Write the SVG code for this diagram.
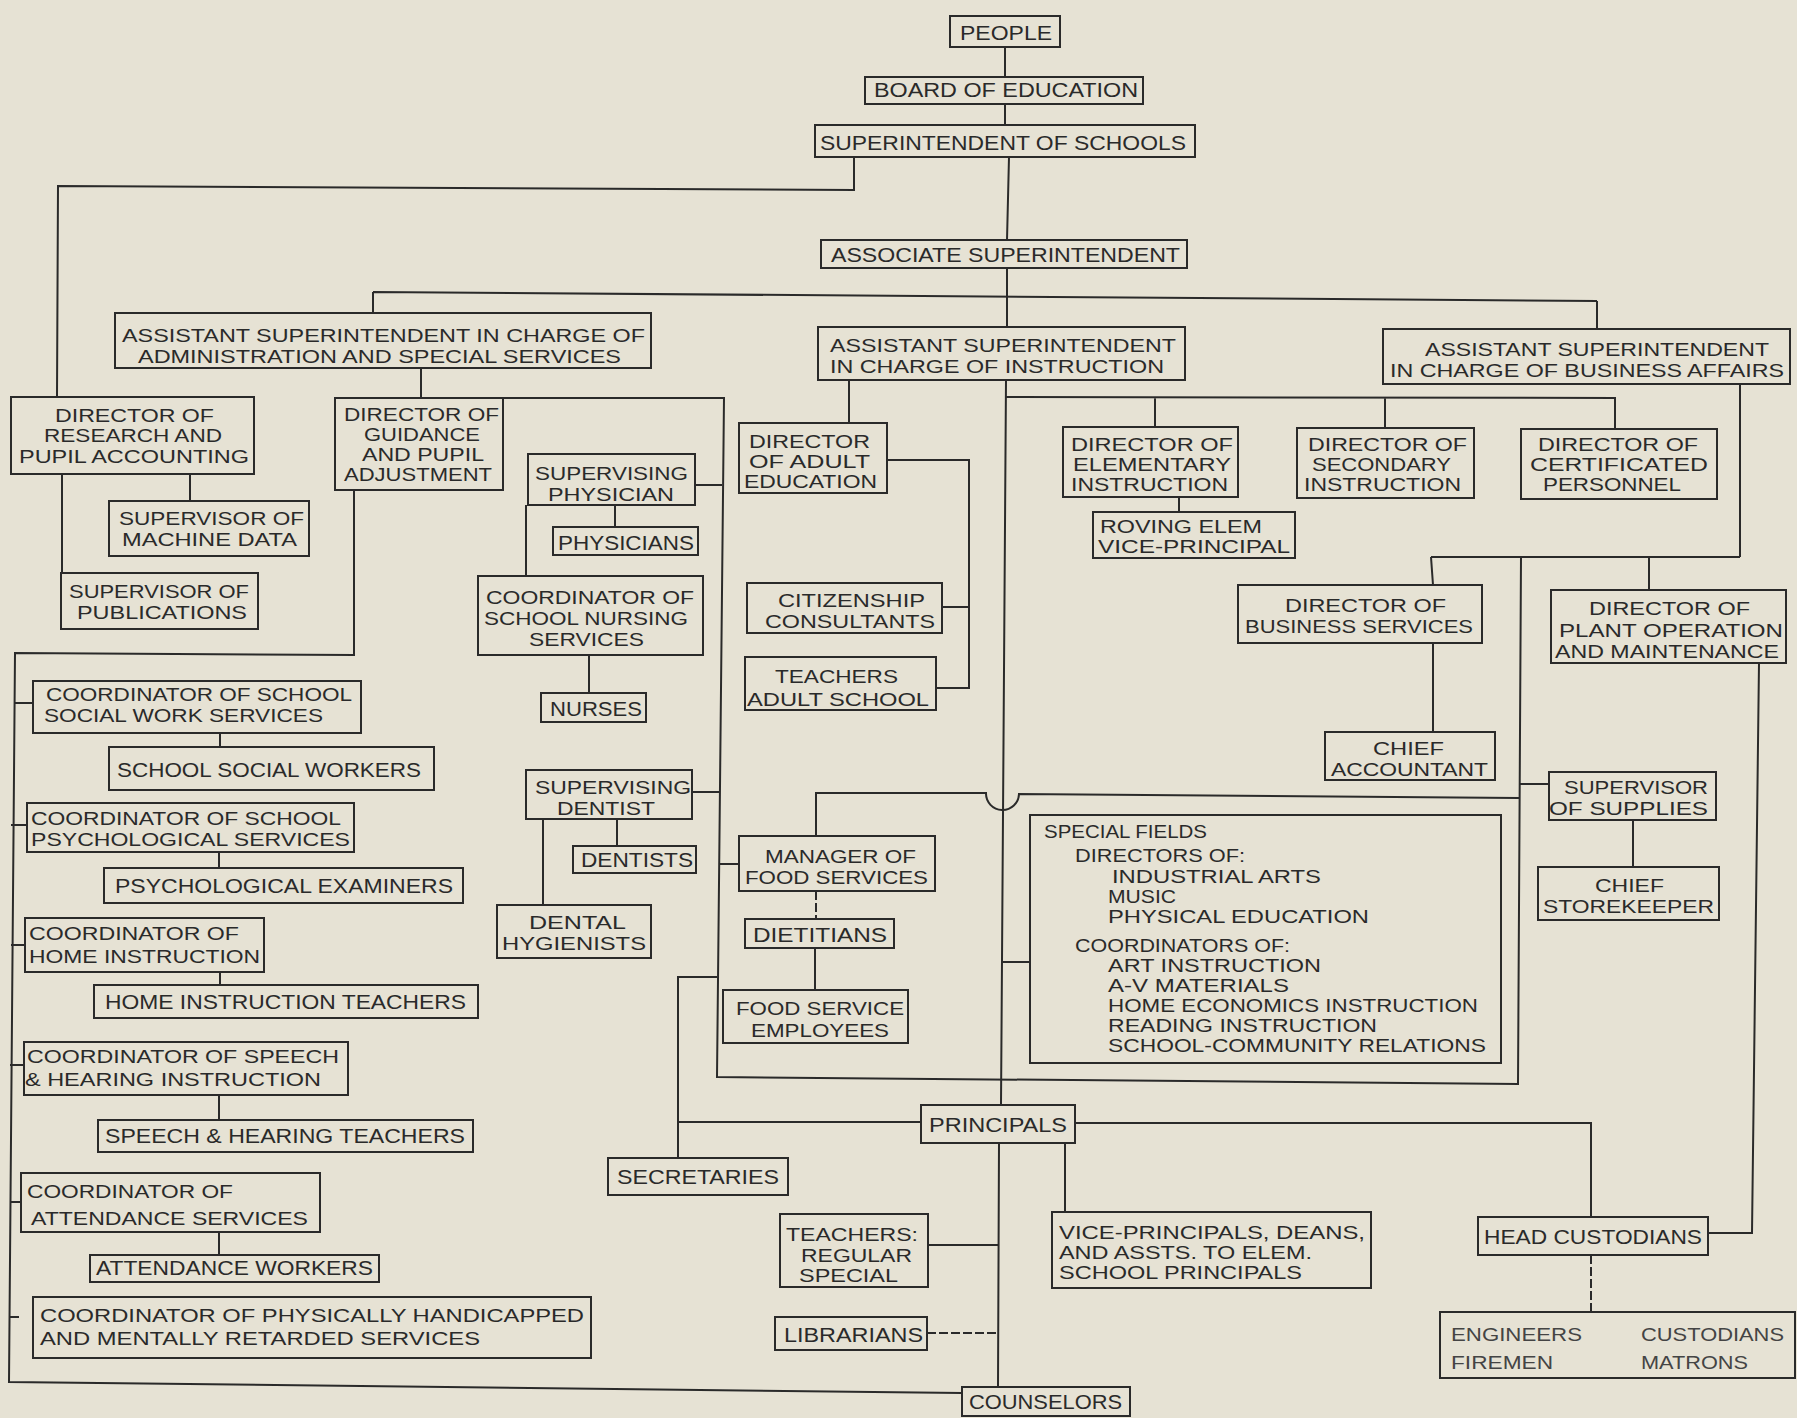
<svg xmlns="http://www.w3.org/2000/svg" width="1797" height="1418" viewBox="0 0 1797 1418">
<style>
.bx{fill:none;stroke:#2a2a2a;stroke-width:2}
.ln{fill:none;stroke:#2a2a2a;stroke-width:2}
.dl{fill:none;stroke:#2a2a2a;stroke-width:2;stroke-dasharray:9 3}
text{font-family:"Liberation Sans",Arial,sans-serif;font-size:18px;fill:#2a2a2a}
.s{font-size:20px}
.lt{fill:#444}
</style>
<rect x="0" y="0" width="1797" height="1418" fill="#e6e2d4"/>
<g id="connectors">
<path class="ln" d="M1005 47V77M1005 104V125M1009 157L1007 240M1007 268V327"/>
<polyline class="ln" points="854,157 854,190 58,186 57,397"/>
<path class="ln" d="M373 292L1597 301M373 292V313M1597 301V329"/>
<path class="ln" d="M421 368V398"/>
<polyline class="ln" points="503,398 724,398 717,1077 1518,1084 1521,557"/>
<polyline class="ln" points="354,490 354,655 15,653 9,1382 962,1393"/>
<path class="ln" d="M15 703H33M11 825H27M11 945H25M10 1065H24M10 1202H21M9 1317H19"/>
<path class="ln" d="M220 733V747M219 852V868M220 972V985M219 1095V1120M219 1232V1255"/>
<path class="ln" d="M190 474V501M62 474V573"/>
<path class="ln" d="M695 485H722M615 505V527M526 505V576M589 655V693"/>
<path class="ln" d="M692 792H720M617 819V846M543 819V905M719 864H739"/>
<path class="ln" d="M816 836V793H986A16.5 16.5 0 0 0 1019 794L1519 798"/>
<path class="dl" d="M816 891V919"/>
<path class="ln" d="M815 948V990"/>
<polyline class="ln" points="717,977 678,977 678,1158"/>
<path class="ln" d="M678 1122H921"/>
<path class="ln" d="M1006 380L1001 1105M999 1143L998 1387M1003 962H1030"/>
<path class="ln" d="M1065 1143V1212M928 1245H999"/>
<path class="dl" d="M927 1333H998"/>
<polyline class="ln" points="1075,1123 1591,1123 1591,1217"/>
<path class="dl" d="M1591 1255V1312"/>
<polyline class="ln" points="1708,1233 1752,1233 1759,663"/>
<path class="ln" d="M1740 384V557M1431 557H1740M1431 557L1433 585M1649 557V590M1433 643V732"/>
<path class="ln" d="M1519 784H1549M1633 820V867"/>
<path class="ln" d="M849 380V423M1006 397L1616 398M1155 397V427M1385 398V428M1615 398V429M1179 497V512"/>
<polyline class="ln" points="887,460 969,460 969,688 936,688"/>
<path class="ln" d="M942 607H969"/>
</g>
<g id="people"><rect class="bx" x="950" y="16" width="110" height="31"/><text class="s" x="960" y="40" textLength="92" lengthAdjust="spacingAndGlyphs">PEOPLE</text></g>
<g id="board"><rect class="bx" x="865" y="77" width="278" height="27"/><text class="s" x="874" y="97" textLength="264" lengthAdjust="spacingAndGlyphs">BOARD OF EDUCATION</text></g>
<g id="supt"><rect class="bx" x="815" y="125" width="380" height="32"/><text class="s" x="820" y="150" textLength="366" lengthAdjust="spacingAndGlyphs">SUPERINTENDENT OF SCHOOLS</text></g>
<g id="assoc"><rect class="bx" x="821" y="240" width="366" height="28"/><text class="s" x="831" y="262" textLength="349" lengthAdjust="spacingAndGlyphs">ASSOCIATE SUPERINTENDENT</text></g>
<g id="asstAdmin"><rect class="bx" x="115" y="313" width="536" height="55"/><text x="122" y="342" textLength="523" lengthAdjust="spacingAndGlyphs">ASSISTANT SUPERINTENDENT IN CHARGE OF</text><text x="138" y="363" textLength="483" lengthAdjust="spacingAndGlyphs">ADMINISTRATION AND SPECIAL SERVICES</text></g>
<g id="asstInstr"><rect class="bx" x="818" y="327" width="367" height="53"/><text x="830" y="352" textLength="346" lengthAdjust="spacingAndGlyphs">ASSISTANT SUPERINTENDENT</text><text x="830" y="373" textLength="334" lengthAdjust="spacingAndGlyphs">IN CHARGE OF INSTRUCTION</text></g>
<g id="asstBusiness"><rect class="bx" x="1383" y="329" width="407" height="55"/><text x="1425" y="356" textLength="344" lengthAdjust="spacingAndGlyphs">ASSISTANT SUPERINTENDENT</text><text x="1390" y="377" textLength="394" lengthAdjust="spacingAndGlyphs">IN CHARGE OF BUSINESS AFFAIRS</text></g>
<g id="dirResearch"><rect class="bx" x="11" y="397" width="243" height="77"/><text x="55" y="422" textLength="159" lengthAdjust="spacingAndGlyphs">DIRECTOR OF</text><text x="44" y="442" textLength="178" lengthAdjust="spacingAndGlyphs">RESEARCH AND</text><text x="19" y="463" textLength="230" lengthAdjust="spacingAndGlyphs">PUPIL ACCOUNTING</text></g>
<g id="dirGuidance"><rect class="bx" x="335" y="398" width="168" height="92"/><text x="344" y="421" textLength="155" lengthAdjust="spacingAndGlyphs">DIRECTOR OF</text><text x="364" y="441" textLength="116" lengthAdjust="spacingAndGlyphs">GUIDANCE</text><text x="362" y="461" textLength="122" lengthAdjust="spacingAndGlyphs">AND PUPIL</text><text x="344" y="481" textLength="148" lengthAdjust="spacingAndGlyphs">ADJUSTMENT</text></g>
<g id="supMachine"><rect class="bx" x="109" y="501" width="200" height="55"/><text x="119" y="525" textLength="185" lengthAdjust="spacingAndGlyphs">SUPERVISOR OF</text><text x="122" y="546" textLength="175" lengthAdjust="spacingAndGlyphs">MACHINE DATA</text></g>
<g id="supPubl"><rect class="bx" x="61" y="573" width="197" height="56"/><text x="69" y="598" textLength="180" lengthAdjust="spacingAndGlyphs">SUPERVISOR OF</text><text x="77" y="619" textLength="170" lengthAdjust="spacingAndGlyphs">PUBLICATIONS</text></g>
<g id="coordSocial"><rect class="bx" x="33" y="681" width="328" height="52"/><text x="46" y="701" textLength="306" lengthAdjust="spacingAndGlyphs">COORDINATOR OF SCHOOL</text><text x="44" y="722" textLength="279" lengthAdjust="spacingAndGlyphs">SOCIAL WORK SERVICES</text></g>
<g id="socialWorkers"><rect class="bx" x="109" y="747" width="325" height="43"/><text class="s" x="117" y="777" textLength="304" lengthAdjust="spacingAndGlyphs">SCHOOL SOCIAL WORKERS</text></g>
<g id="coordPsych"><rect class="bx" x="27" y="803" width="327" height="49"/><text x="31" y="825" textLength="310" lengthAdjust="spacingAndGlyphs">COORDINATOR OF SCHOOL</text><text x="31" y="846" textLength="319" lengthAdjust="spacingAndGlyphs">PSYCHOLOGICAL SERVICES</text></g>
<g id="psychExam"><rect class="bx" x="104" y="868" width="359" height="35"/><text class="s" x="115" y="893" textLength="338" lengthAdjust="spacingAndGlyphs">PSYCHOLOGICAL EXAMINERS</text></g>
<g id="coordHome"><rect class="bx" x="25" y="918" width="239" height="54"/><text x="29" y="940" textLength="210" lengthAdjust="spacingAndGlyphs">COORDINATOR OF</text><text x="29" y="963" textLength="231" lengthAdjust="spacingAndGlyphs">HOME INSTRUCTION</text></g>
<g id="homeTeachers"><rect class="bx" x="94" y="985" width="384" height="33"/><text class="s" x="105" y="1009" textLength="361" lengthAdjust="spacingAndGlyphs">HOME INSTRUCTION TEACHERS</text></g>
<g id="coordSpeech"><rect class="bx" x="24" y="1042" width="324" height="53"/><text x="27" y="1063" textLength="312" lengthAdjust="spacingAndGlyphs">COORDINATOR OF SPEECH</text><text x="25" y="1086" textLength="296" lengthAdjust="spacingAndGlyphs">&amp; HEARING INSTRUCTION</text></g>
<g id="speechTeachers"><rect class="bx" x="98" y="1120" width="375" height="32"/><text class="s" x="105" y="1143" textLength="360" lengthAdjust="spacingAndGlyphs">SPEECH &amp; HEARING TEACHERS</text></g>
<g id="coordAttend"><rect class="bx" x="21" y="1173" width="299" height="59"/><text x="27" y="1198" textLength="206" lengthAdjust="spacingAndGlyphs">COORDINATOR OF</text><text x="31" y="1225" textLength="277" lengthAdjust="spacingAndGlyphs">ATTENDANCE SERVICES</text></g>
<g id="attendWorkers"><rect class="bx" x="90" y="1255" width="289" height="27"/><text class="s" x="96" y="1275" textLength="277" lengthAdjust="spacingAndGlyphs">ATTENDANCE WORKERS</text></g>
<g id="coordPhys"><rect class="bx" x="33" y="1297" width="558" height="61"/><text x="40" y="1322" textLength="544" lengthAdjust="spacingAndGlyphs">COORDINATOR OF PHYSICALLY HANDICAPPED</text><text x="40" y="1345" textLength="440" lengthAdjust="spacingAndGlyphs">AND MENTALLY RETARDED SERVICES</text></g>
<g id="supPhysician"><rect class="bx" x="528" y="454" width="167" height="51"/><text x="535" y="480" textLength="153" lengthAdjust="spacingAndGlyphs">SUPERVISING</text><text x="548" y="501" textLength="126" lengthAdjust="spacingAndGlyphs">PHYSICIAN</text></g>
<g id="physicians"><rect class="bx" x="553" y="527" width="145" height="28"/><text class="s" x="558" y="550" textLength="136" lengthAdjust="spacingAndGlyphs">PHYSICIANS</text></g>
<g id="coordNursing"><rect class="bx" x="478" y="576" width="225" height="79"/><text x="486" y="604" textLength="208" lengthAdjust="spacingAndGlyphs">COORDINATOR OF</text><text x="484" y="625" textLength="204" lengthAdjust="spacingAndGlyphs">SCHOOL NURSING</text><text x="529" y="646" textLength="115" lengthAdjust="spacingAndGlyphs">SERVICES</text></g>
<g id="nurses"><rect class="bx" x="541" y="693" width="105" height="29"/><text class="s" x="550" y="716" textLength="92" lengthAdjust="spacingAndGlyphs">NURSES</text></g>
<g id="supDentist"><rect class="bx" x="526" y="770" width="166" height="49"/><text x="535" y="794" textLength="156" lengthAdjust="spacingAndGlyphs">SUPERVISING</text><text x="557" y="815" textLength="98" lengthAdjust="spacingAndGlyphs">DENTIST</text></g>
<g id="dentists"><rect class="bx" x="573" y="846" width="123" height="27"/><text class="s" x="581" y="867" textLength="112" lengthAdjust="spacingAndGlyphs">DENTISTS</text></g>
<g id="dentalHyg"><rect class="bx" x="497" y="905" width="154" height="53"/><text x="529" y="929" textLength="97" lengthAdjust="spacingAndGlyphs">DENTAL</text><text x="502" y="950" textLength="144" lengthAdjust="spacingAndGlyphs">HYGIENISTS</text></g>
<g id="managerFood"><rect class="bx" x="739" y="836" width="196" height="55"/><text x="765" y="863" textLength="151" lengthAdjust="spacingAndGlyphs">MANAGER OF</text><text x="745" y="884" textLength="183" lengthAdjust="spacingAndGlyphs">FOOD SERVICES</text></g>
<g id="dietitians"><rect class="bx" x="745" y="919" width="149" height="29"/><text class="s" x="753" y="942" textLength="134" lengthAdjust="spacingAndGlyphs">DIETITIANS</text></g>
<g id="foodEmployees"><rect class="bx" x="723" y="990" width="185" height="53"/><text x="736" y="1015" textLength="168" lengthAdjust="spacingAndGlyphs">FOOD SERVICE</text><text x="751" y="1037" textLength="138" lengthAdjust="spacingAndGlyphs">EMPLOYEES</text></g>
<g id="dirAdult"><rect class="bx" x="739" y="423" width="148" height="70"/><text x="749" y="448" textLength="121" lengthAdjust="spacingAndGlyphs">DIRECTOR</text><text x="749" y="468" textLength="121" lengthAdjust="spacingAndGlyphs">OF ADULT</text><text x="744" y="488" textLength="133" lengthAdjust="spacingAndGlyphs">EDUCATION</text></g>
<g id="citizenship"><rect class="bx" x="747" y="583" width="195" height="50"/><text x="778" y="607" textLength="147" lengthAdjust="spacingAndGlyphs">CITIZENSHIP</text><text x="765" y="628" textLength="170" lengthAdjust="spacingAndGlyphs">CONSULTANTS</text></g>
<g id="teachersAdult"><rect class="bx" x="745" y="657" width="191" height="53"/><text x="775" y="683" textLength="123" lengthAdjust="spacingAndGlyphs">TEACHERS</text><text x="747" y="706" textLength="182" lengthAdjust="spacingAndGlyphs">ADULT SCHOOL</text></g>
<g id="dirElem"><rect class="bx" x="1063" y="427" width="175" height="70"/><text x="1071" y="451" textLength="162" lengthAdjust="spacingAndGlyphs">DIRECTOR OF</text><text x="1073" y="471" textLength="158" lengthAdjust="spacingAndGlyphs">ELEMENTARY</text><text x="1071" y="491" textLength="157" lengthAdjust="spacingAndGlyphs">INSTRUCTION</text></g>
<g id="roving"><rect class="bx" x="1093" y="512" width="202" height="46"/><text x="1100" y="533" textLength="162" lengthAdjust="spacingAndGlyphs">ROVING ELEM</text><text x="1098" y="553" textLength="192" lengthAdjust="spacingAndGlyphs">VICE-PRINCIPAL</text></g>
<g id="dirSecondary"><rect class="bx" x="1297" y="428" width="177" height="70"/><text x="1308" y="451" textLength="159" lengthAdjust="spacingAndGlyphs">DIRECTOR OF</text><text x="1312" y="471" textLength="139" lengthAdjust="spacingAndGlyphs">SECONDARY</text><text x="1304" y="491" textLength="157" lengthAdjust="spacingAndGlyphs">INSTRUCTION</text></g>
<g id="dirCert"><rect class="bx" x="1521" y="429" width="196" height="70"/><text x="1538" y="451" textLength="160" lengthAdjust="spacingAndGlyphs">DIRECTOR OF</text><text x="1530" y="471" textLength="178" lengthAdjust="spacingAndGlyphs">CERTIFICATED</text><text x="1543" y="491" textLength="138" lengthAdjust="spacingAndGlyphs">PERSONNEL</text></g>
<g id="dirBusiness"><rect class="bx" x="1238" y="585" width="244" height="58"/><text x="1285" y="612" textLength="161" lengthAdjust="spacingAndGlyphs">DIRECTOR OF</text><text x="1245" y="633" textLength="228" lengthAdjust="spacingAndGlyphs">BUSINESS SERVICES</text></g>
<g id="dirPlant"><rect class="bx" x="1551" y="590" width="235" height="73"/><text x="1589" y="615" textLength="161" lengthAdjust="spacingAndGlyphs">DIRECTOR OF</text><text x="1559" y="637" textLength="224" lengthAdjust="spacingAndGlyphs">PLANT OPERATION</text><text x="1555" y="658" textLength="224" lengthAdjust="spacingAndGlyphs">AND MAINTENANCE</text></g>
<g id="chiefAccountant"><rect class="bx" x="1325" y="732" width="170" height="48"/><text x="1373" y="755" textLength="71" lengthAdjust="spacingAndGlyphs">CHIEF</text><text x="1331" y="776" textLength="157" lengthAdjust="spacingAndGlyphs">ACCOUNTANT</text></g>
<g id="supSupplies"><rect class="bx" x="1549" y="772" width="167" height="48"/><text x="1564" y="794" textLength="144" lengthAdjust="spacingAndGlyphs">SUPERVISOR</text><text x="1549" y="815" textLength="159" lengthAdjust="spacingAndGlyphs">OF SUPPLIES</text></g>
<g id="storekeeper"><rect class="bx" x="1538" y="867" width="181" height="53"/><text x="1595" y="892" textLength="69" lengthAdjust="spacingAndGlyphs">CHIEF</text><text x="1543" y="913" textLength="171" lengthAdjust="spacingAndGlyphs">STOREKEEPER</text></g>
<g id="specialFields"><rect class="bx" x="1030" y="815" width="471" height="248"/>
<text x="1044" y="838" textLength="163" lengthAdjust="spacingAndGlyphs">SPECIAL FIELDS</text>
<text x="1075" y="862" textLength="170" lengthAdjust="spacingAndGlyphs">DIRECTORS OF:</text>
<text x="1112" y="883" textLength="209" lengthAdjust="spacingAndGlyphs">INDUSTRIAL ARTS</text>
<text x="1108" y="903" textLength="68" lengthAdjust="spacingAndGlyphs">MUSIC</text>
<text x="1108" y="923" textLength="261" lengthAdjust="spacingAndGlyphs">PHYSICAL EDUCATION</text>
<text x="1075" y="952" textLength="215" lengthAdjust="spacingAndGlyphs">COORDINATORS OF:</text>
<text x="1108" y="972" textLength="213" lengthAdjust="spacingAndGlyphs">ART INSTRUCTION</text>
<text x="1108" y="992" textLength="181" lengthAdjust="spacingAndGlyphs">A-V MATERIALS</text>
<text x="1108" y="1012" textLength="370" lengthAdjust="spacingAndGlyphs">HOME ECONOMICS INSTRUCTION</text>
<text x="1108" y="1032" textLength="269" lengthAdjust="spacingAndGlyphs">READING INSTRUCTION</text>
<text x="1108" y="1052" textLength="378" lengthAdjust="spacingAndGlyphs">SCHOOL-COMMUNITY RELATIONS</text></g>
<g id="principals"><rect class="bx" x="921" y="1105" width="154" height="38"/><text class="s" x="929" y="1132" textLength="138" lengthAdjust="spacingAndGlyphs">PRINCIPALS</text></g>
<g id="secretaries"><rect class="bx" x="608" y="1158" width="180" height="37"/><text class="s" x="617" y="1184" textLength="162" lengthAdjust="spacingAndGlyphs">SECRETARIES</text></g>
<g id="teachers"><rect class="bx" x="780" y="1214" width="148" height="73"/><text x="786" y="1241" textLength="132" lengthAdjust="spacingAndGlyphs">TEACHERS:</text><text x="801" y="1262" textLength="111" lengthAdjust="spacingAndGlyphs">REGULAR</text><text x="799" y="1282" textLength="99" lengthAdjust="spacingAndGlyphs">SPECIAL</text></g>
<g id="librarians"><rect class="bx" x="775" y="1317" width="152" height="33"/><text class="s" x="784" y="1342" textLength="139" lengthAdjust="spacingAndGlyphs">LIBRARIANS</text></g>
<g id="counselors"><rect class="bx" x="962" y="1387" width="168" height="29"/><text class="s" x="969" y="1409" textLength="153" lengthAdjust="spacingAndGlyphs">COUNSELORS</text></g>
<g id="vicePrincipals"><rect class="bx" x="1052" y="1212" width="319" height="76"/><text x="1059" y="1239" textLength="306" lengthAdjust="spacingAndGlyphs">VICE-PRINCIPALS, DEANS,</text><text x="1059" y="1259" textLength="253" lengthAdjust="spacingAndGlyphs">AND ASSTS. TO ELEM.</text><text x="1059" y="1279" textLength="243" lengthAdjust="spacingAndGlyphs">SCHOOL PRINCIPALS</text></g>
<g id="headCustodians"><rect class="bx" x="1478" y="1217" width="230" height="38"/><text class="s" x="1484" y="1244" textLength="218" lengthAdjust="spacingAndGlyphs">HEAD CUSTODIANS</text></g>
<g id="custodialStaff"><rect class="bx" x="1440" y="1312" width="355" height="66"/><text class="lt" x="1451" y="1341" textLength="131" lengthAdjust="spacingAndGlyphs">ENGINEERS</text><text class="lt" x="1641" y="1341" textLength="143" lengthAdjust="spacingAndGlyphs">CUSTODIANS</text><text class="lt" x="1451" y="1369" textLength="102" lengthAdjust="spacingAndGlyphs">FIREMEN</text><text class="lt" x="1641" y="1369" textLength="107" lengthAdjust="spacingAndGlyphs">MATRONS</text></g>
</svg>
